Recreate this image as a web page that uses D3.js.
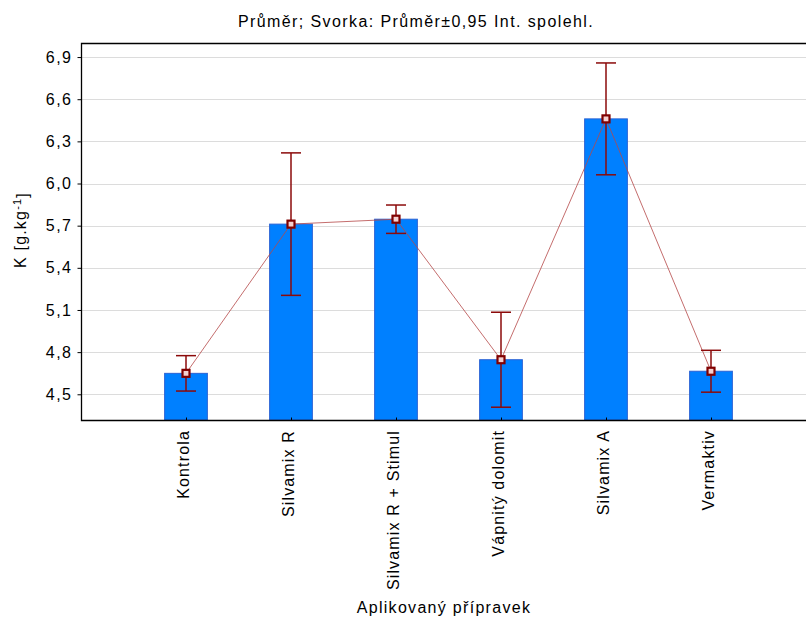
<!DOCTYPE html>
<html>
<head>
<meta charset="utf-8">
<script src="https://cdn.jsdelivr.net/npm/d3@7"></script>
<style>
  body { margin: 0; background: #fff; }
  text { font-family: "Liberation Sans", Arial, sans-serif; fill: #000; }
</style>
</head>
<body>
<div id="chart"></div>
<script>
const categories = ["Kontrola", "Silvamix R", "Silvamix R + Stimul", "Vápnitý dolomit", "Silvamix A", "Vermaktiv"];
const means = [4.649, 5.711, 5.746, 4.746, 6.46, 4.664];
const ciHalf = [0.126, 0.507, 0.101, 0.338, 0.398, 0.149];
const yTicks = [4.5, 4.8, 5.1, 5.4, 5.7, 6.0, 6.3, 6.6, 6.9];

const width = 806;
const height = 623;
const plotLeft = 81, plotTop = 43, plotBottom = 420;

let svg = d3.select("#chart").append("svg")
  .attr("width", width)
  .attr("height", height);

// categories sit at 1..6 on a 0..7 axis (plot is cut off at the right)
let xScale = d3.scaleLinear().domain([0, 7]).range([plotLeft, 816]);
let yScale = d3.scaleLinear().domain([4.317, 7.0]).range([plotBottom, plotTop]);
let barW = xScale(0.407) - xScale(0);

// gridlines
svg.append("g").selectAll("line")
  .data(yTicks).enter().append("line")
  .attr("x1", plotLeft).attr("x2", width)
  .attr("y1", d => Math.round(yScale(d)) + 0.5)
  .attr("y2", d => Math.round(yScale(d)) + 0.5)
  .attr("stroke", "#dcdcdc").attr("stroke-width", 1.2);

// y axis
let yAxis = d3.axisLeft(yScale).tickValues(yTicks).tickSize(4).tickPadding(5)
  .tickFormat(d => d3.format(".1f")(d).replace(".", ","));
let gy = svg.append("g").attr("transform", "translate(" + (plotLeft + 0.5) + ",0)").call(yAxis);
gy.select(".domain").remove();
gy.selectAll(".tick line").attr("stroke", "#000");
gy.selectAll("text").style("font-size", "16px").style("letter-spacing", "1.5px").attr("fill", "#000");

// bars
svg.append("g").selectAll("rect")
  .data(means).enter().append("rect")
  .attr("x", (d, i) => xScale(i + 1) - barW / 2)
  .attr("y", d => yScale(d))
  .attr("width", barW)
  .attr("height", d => plotBottom - yScale(d))
  .attr("fill", "#0080ff")
  .attr("stroke", "#2a62d4")
  .attr("stroke-width", 1);

// line through means
let line = d3.line().x((d, i) => xScale(i + 1)).y(d => yScale(d));
svg.append("path").datum(means)
  .attr("d", line)
  .attr("fill", "none")
  .attr("stroke", "#b54848")
  .attr("stroke-opacity", 0.8)
  .attr("stroke-width", 1);

// error bars
let eb = svg.append("g").selectAll("g")
  .data(means).enter().append("g")
  .attr("stroke", "#8b0a0a").attr("stroke-width", 1.5);
eb.append("line")
  .attr("x1", (d, i) => xScale(i + 1)).attr("x2", (d, i) => xScale(i + 1))
  .attr("y1", (d, i) => yScale(d + ciHalf[i])).attr("y2", (d, i) => yScale(d - ciHalf[i]));
eb.append("line")
  .attr("x1", (d, i) => xScale(i + 1) - 10).attr("x2", (d, i) => xScale(i + 1) + 10)
  .attr("y1", (d, i) => yScale(d + ciHalf[i])).attr("y2", (d, i) => yScale(d + ciHalf[i]));
eb.append("line")
  .attr("x1", (d, i) => xScale(i + 1) - 10).attr("x2", (d, i) => xScale(i + 1) + 10)
  .attr("y1", (d, i) => yScale(d - ciHalf[i])).attr("y2", (d, i) => yScale(d - ciHalf[i]));

// markers
svg.append("g").selectAll("rect")
  .data(means).enter().append("rect")
  .attr("x", (d, i) => xScale(i + 1) - 3.5)
  .attr("y", d => yScale(d) - 3.5)
  .attr("width", 7).attr("height", 7)
  .attr("fill", "#f4d0d0")
  .attr("stroke", "#800000")
  .attr("stroke-width", 2.2);

// frame (left, top, bottom)
svg.append("path")
  .attr("d", "M" + width + "," + (plotTop + 0.5) + "H" + (plotLeft + 0.5) + "V" + (plotBottom + 0.5) + "H" + width)
  .attr("fill", "none").attr("stroke", "#000").attr("stroke-width", 1.3);

// x ticks and labels
let xAxis = d3.axisBottom(xScale).tickValues(d3.range(1, 7)).tickSize(-3).tickFormat("");
let gx = svg.append("g").attr("transform", "translate(0," + (plotBottom + 0.5) + ")").call(xAxis);
gx.select(".domain").remove();
gx.selectAll(".tick line").attr("stroke", "#000");

svg.append("g").selectAll("text")
  .data(categories).enter().append("text")
  .attr("transform", (d, i) => "translate(" + (xScale(i + 1) - 3) + "," + 430 + ") rotate(-90)")
  .attr("text-anchor", "end")
  .attr("dy", "0.35em")
  .style("font-size", "16px")
  .style("letter-spacing", "1.15px")
  .text(d => d);

// titles
svg.append("text")
  .attr("x", 416).attr("y", 27)
  .attr("text-anchor", "middle")
  .style("font-size", "16px")
  .style("letter-spacing", "1.4px")
  .text("Průměr; Svorka: Průměr±0,95 Int. spolehl.");

svg.append("text")
  .attr("x", 444).attr("y", 613)
  .attr("text-anchor", "middle")
  .style("font-size", "16px")
  .style("letter-spacing", "1.3px")
  .text("Aplikovaný přípravek");

let yt = svg.append("text")
  .attr("transform", "translate(26,230) rotate(-90)")
  .attr("text-anchor", "middle")
  .style("font-size", "16px")
  .style("letter-spacing", "1.2px");
yt.append("tspan").text("K [g.kg");
yt.append("tspan").attr("dy", "-0.45em").style("font-size", "11px").text("-1");
yt.append("tspan").attr("dy", "0.45em").text("]");
</script>
</body>
</html>
